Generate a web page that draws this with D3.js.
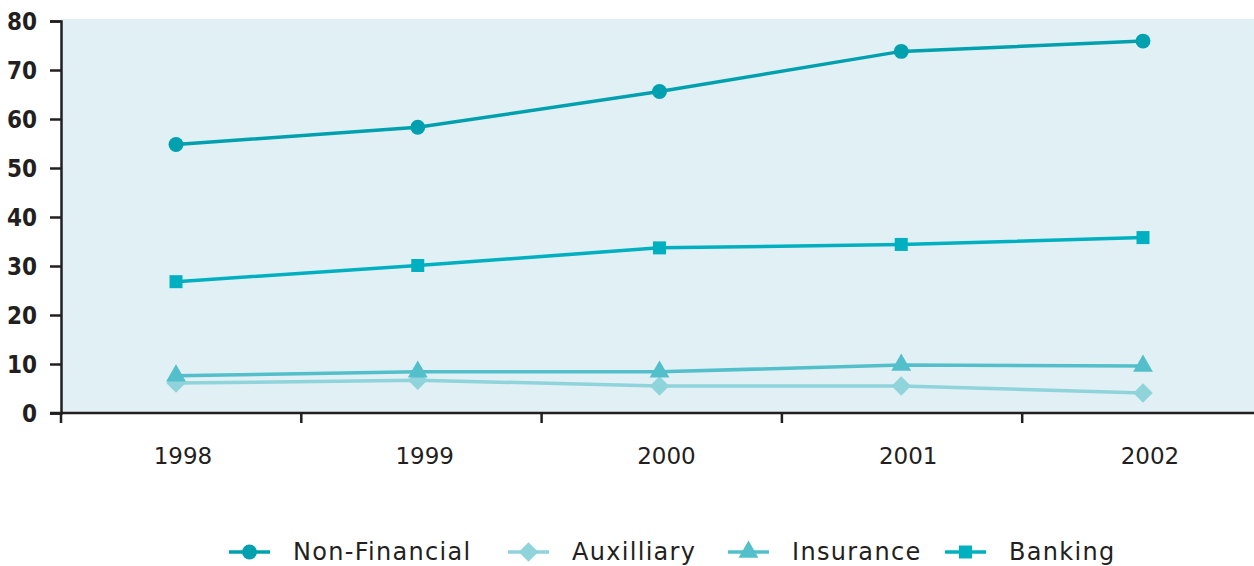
<!DOCTYPE html>
<html>
<head>
<meta charset="utf-8">
<script src="https://cdn.jsdelivr.net/npm/d3@7"></script>
<style>
  body { margin: 0; background: #fff; }
  svg text { font-family: "DejaVu Sans", sans-serif; fill: #231f20; }
</style>
</head>
<body>
<div id="chart"></div>
<script>
const years = ['1998', '1999', '2000', '2001', '2002'];
const yTicks = [0, 10, 20, 30, 40, 50, 60, 70, 80];

const nonFinancial = [54.8, 58.3, 65.6, 73.8, 75.9];
const auxilliary   = [6.1, 6.7, 5.5, 5.5, 4.1];
const insurance    = [7.6, 8.4, 8.4, 9.8, 9.6];
const banking      = [26.8, 30.1, 33.7, 34.4, 35.8];

const seriesNames = ['Non-Financial', 'Auxilliary', 'Insurance', 'Banking'];

const diamond = { draw(ctx, size) { const r = Math.sqrt(size / 2); ctx.moveTo(0, -r); ctx.lineTo(r, 0); ctx.lineTo(0, r); ctx.lineTo(-r, 0); ctx.closePath(); } };

const series = [
  { name: seriesNames[0], values: nonFinancial, color: '#00a0ae', symbol: d3.symbolCircle,   size: 175 },
  { name: seriesNames[1], values: auxilliary,   color: '#8fd3db', symbol: diamond,          size: 190 },
  { name: seriesNames[2], values: insurance,    color: '#52bfcb', symbol: d3.symbolTriangle, size: 170 },
  { name: seriesNames[3], values: banking,      color: '#00b0c0', symbol: d3.symbolSquare,   size: 169 }
];

const W = 1254, H = 566;
const margin = { top: 21, left: 61, bottom: 153 };

const svg = d3.select('#chart').append('svg').attr('width', W).attr('height', H);

// band scale for tick boundaries, point scale for the marks
const xBand = d3.scaleBand().domain(years).range([margin.left, margin.left + 240.3 * years.length]);
const x = d3.scalePoint().domain(years).range([176, 1143]);
const y = d3.scaleLinear().domain([0, 80]).range([H - margin.bottom, margin.top]);

// plot background
svg.append('rect')
  .attr('x', margin.left).attr('y', margin.top - 2)
  .attr('width', W - margin.left).attr('height', y(0) - margin.top + 2)
  .attr('fill', '#e1f0f4');

// y axis
const yAxis = svg.append('g')
  .attr('transform', `translate(${margin.left},0)`)
  .call(d3.axisLeft(y).tickValues(yTicks).tickSize(11).tickPadding(13));
yAxis.select('.domain').attr('stroke', '#231f20').attr('stroke-width', 2.5);
yAxis.selectAll('.tick line').attr('stroke', '#231f20').attr('stroke-width', 2.5);
yAxis.selectAll('.tick text').attr('font-size', 24).attr('font-weight', 'bold')
  .attr('dy', '0.36em')
  .style('font-family', '"DejaVu Sans Condensed", "DejaVu Sans", sans-serif')
  .style('font-stretch', 'condensed')
  .attr('fill', '#231f20');

// x axis: ticks at band boundaries, labels under the points
const xg = svg.append('g').attr('transform', `translate(0,${y(0)})`);
xg.append('line')
  .attr('x1', margin.left - 11).attr('x2', W)
  .attr('stroke', '#231f20').attr('stroke-width', 2.5);
xg.selectAll('.xtick').data(years).enter().append('line')
  .attr('class', 'xtick')
  .attr('x1', d => xBand(d)).attr('x2', d => xBand(d))
  .attr('y1', 0).attr('y2', 10)
  .attr('stroke', '#231f20').attr('stroke-width', 2.5);
xg.selectAll('.xlabel').data(years).enter().append('text')
  .attr('class', 'xlabel')
  .attr('x', d => x(d) + 7)
  .attr('y', 51)
  .attr('text-anchor', 'middle')
  .attr('font-size', 23)
  .text(d => d);

const line = d3.line().x((d, i) => x(years[i])).y(d => y(d));

series.forEach(s => {
  svg.append('path')
    .datum(s.values)
    .attr('d', line)
    .attr('fill', 'none')
    .attr('stroke', s.color)
    .attr('stroke-width', 3.5);
});

series.forEach(s => {
  svg.selectAll(null).data(s.values).enter().append('path')
    .attr('transform', (d, i) => `translate(${x(years[i])},${y(d)})`)
    .attr('d', d3.symbol().type(s.symbol).size(s.size))
    .attr('fill', s.color);
});

// legend
const legendX = [229, 508, 728, 945];
const legendY = 552;
const legend = svg.selectAll('.legend').data(series).enter().append('g')
  .attr('class', 'legend')
  .attr('transform', (d, i) => `translate(${legendX[i]},${legendY})`);
legend.append('line')
  .attr('x1', 0).attr('x2', 41)
  .attr('stroke', d => d.color).attr('stroke-width', 3.5);
legend.append('path')
  .attr('transform', 'translate(20.5,0)')
  .attr('d', d => d3.symbol().type(d.symbol).size(d.size)())
  .attr('fill', d => d.color);
legend.append('text')
  .attr('x', 64).attr('y', 8)
  .attr('font-size', 24)
  .attr('letter-spacing', 1.3)
  .text(d => d.name);
</script>
</body>
</html>
